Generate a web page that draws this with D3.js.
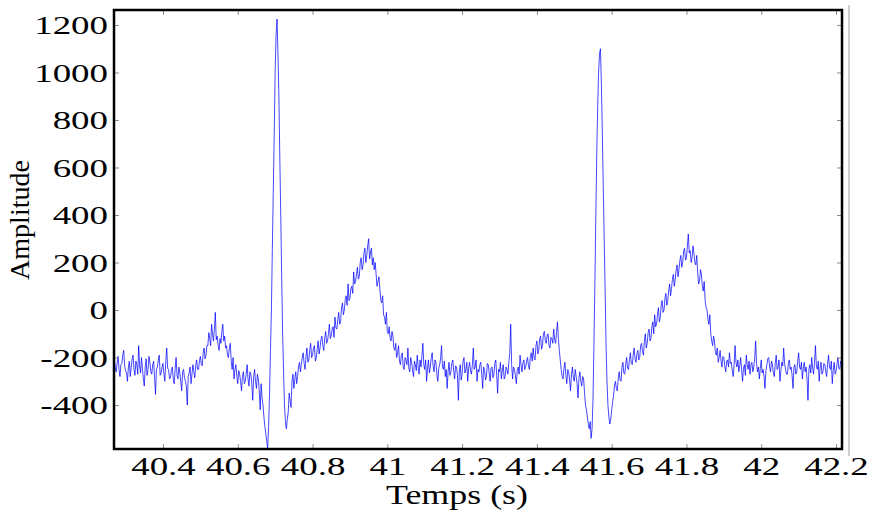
<!DOCTYPE html>
<html>
<head>
  <meta charset="utf-8">
  <script src="https://d3js.org/d3.v7.min.js"></script>
  <style>
    body { margin: 0; background: #fff; }
  </style>
</head>
<body>
  <script type="text/javascript">
      // sampled ECG trace, one value every 2.5 ms starting at 40.27 s (one row = 50 ms)
      var sampleStart = 40.27,
          samplePeriod = 0.0025;

      var amplitude = [
          -210, -245, -260, -220, -195, -250, -280, -230, -225, -190, -170, -235, -255, -265, -300, -240, -215, -280, -240, -205,
          -190, -250, -275, -215, -230, -270, -150, -235, -265, -200, -245, -290, -320, -240, -205, -275, -250, -195, -220, -260,
          -270, -230, -215, -285, -355, -250, -240, -210, -190, -275, -265, -240, -225, -270, -300, -215, -160, -245, -250, -290,
          -285, -255, -240, -290, -310, -250, -200, -275, -290, -240, -265, -300, -340, -260, -250, -285, -300, -320, -400, -280,
          -265, -240, -310, -270, -230, -260, -285, -235, -210, -250, -250, -215, -195, -230, -235, -180, -160, -205, -190, -150,
          -150, -95, -120, -150, -60, -100, -130, -80, -10, -125, -110, -150, -170, -120, -140, -90, -60, -130, -110, -160,
          -150, -190, -200, -160, -140, -215, -250, -200, -290, -250, -230, -280, -310, -255, -270, -300, -340, -280, -260, -310,
          -300, -270, -230, -290, -320, -260, -270, -310, -380, -280, -250, -300, -330, -270, -290, -340, -420, -310, -370, -400,
          -450, -490, -520, -555, -580, -490, -350, -170, 0, 260, 500, 740, 1000, 1160, 1225, 1080, 900, 640, 400, 140,
          -100, -260, -400, -470, -500, -460, -430, -350, -380, -410, -300, -270, -330, -290, -260, -310, -280, -240, -220, -260,
          -230, -200, -180, -225, -250, -195, -160, -220, -210, -170, -140, -200, -190, -160, -150, -215, -200, -165, -130, -185,
          -160, -125, -110, -150, -170, -120, -90, -140, -130, -100, -60, -120, -110, -80, -70, -115, -30, -75, -80, -40,
          -10, -60, -50, 10, 30, -20, 0, 45, 60, 20, 110, 40, 50, 90, 100, 70, 160, 110, 120, 150,
          180, 130, 140, 200, 220, 170, 190, 240, 260, 200, 230, 270, 300, 215, 240, 260, 190, 220, 170, 200,
          150, 100, 120, 140, 90, 40, 30, 60, -20, -30, -60, -10, -90, -100, -70, -120, -130, -90, -110, -160,
          -170, -140, -200, -180, -150, -215, -230, -190, -180, -240, -250, -200, -210, -230, -160, -245, -260, -200, -220, -255,
          -280, -215, -230, -255, -190, -240, -270, -210, -240, -195, -140, -230, -250, -210, -300, -245, -210, -265, -240, -200,
          -180, -235, -260, -210, -220, -270, -300, -245, -230, -205, -150, -240, -250, -215, -280, -250, -330, -260, -220, -275,
          -260, -225, -210, -255, -290, -235, -240, -275, -380, -260, -230, -295, -270, -215, -200, -265, -250, -220, -300, -245,
          -220, -255, -270, -230, -160, -250, -240, -210, -300, -250, -260, -230, -220, -270, -330, -240, -250, -295, -280, -225,
          -230, -265, -300, -245, -240, -285, -270, -225, -210, -275, -350, -250, -260, -220, -290, -255, -230, -290, -280, -240,
          -250, -270, -220, -180, -60, -230, -290, -240, -250, -275, -310, -255, -240, -270, -190, -230, -260, -225, -210, -250,
          -240, -215, -200, -235, -250, -195, -180, -215, -160, -200, -210, -150, -130, -185, -170, -120, -110, -165, -150, -100,
          -90, -130, -140, -105, -100, -150, -160, -115, -120, -140, -80, -125, -140, -95, -50, -120, -170, -210, -250, -280,
          -290, -245, -220, -275, -310, -250, -260, -295, -340, -270, -240, -285, -300, -250, -280, -310, -370, -285, -260, -300,
          -320, -280, -290, -350, -400, -420, -450, -480, -500, -470, -540, -500, -380, -150, 100, 380, 650, 850, 1000, 1080,
          1100, 950, 750, 520, 300, 80, -150, -300, -400, -450, -480, -460, -420, -390, -360, -320, -300, -330, -340, -290,
          -260, -295, -300, -240, -220, -265, -270, -230, -200, -245, -250, -210, -180, -225, -230, -190, -160, -205, -220, -185,
          -170, -210, -200, -150, -140, -175, -190, -130, -100, -160, -140, -95, -80, -130, -120, -70, -50, -100, -20, -70,
          -60, -20, 10, -50, -30, 20, 40, -10, 0, 50, 70, 20, 40, 80, 110, 60, 90, 130, 150, 100,
          130, 170, 190, 140, 170, 210, 230, 180, 200, 250, 260, 210, 220, 270, 320, 240, 250, 200, 220, 270,
          240, 200, 190, 230, 160, 110, 120, 170, 150, 100, 80, 120, 40, 10, 0, -40, -60, -20, -100, -130,
          -150, -110, -130, -180, -190, -160, -220, -200, -170, -215, -240, -195, -200, -235, -260, -215, -210, -240, -180, -225,
          -220, -255, -280, -230, -150, -220, -240, -210, -260, -235, -200, -250, -300, -245, -230, -275, -190, -230, -250, -215,
          -270, -230, -220, -260, -240, -205, -130, -225, -260, -240, -290, -245, -210, -265, -250, -280, -330, -255, -230, -205,
          -200, -240, -260, -215, -230, -265, -280, -225, -190, -250, -240, -210, -300, -255, -220, -235, -160, -225, -250, -270,
          -270, -225, -210, -250, -240, -275, -330, -240, -230, -270, -260, -215, -180, -240, -250, -220, -290, -245, -220, -260,
          -240, -290, -380, -250, -230, -265, -200, -245, -270, -220, -150, -235, -250, -215, -300, -240, -220, -270, -260, -225,
          -230, -260, -280, -225, -190, -240, -250, -215, -310, -255, -220, -270, -260, -230, -200, -245, -250, -215, -230, -250
      ];

      var xTicks = [40.4, 40.6, 40.8, 41, 41.2, 41.4, 41.6, 41.8, 42, 42.2];
      var yTicks = [-400, -200, 0, 200, 400, 600, 800, 1000, 1200];

      function draw() {
          "use strict";

          var width = 870,
              height = 512,
              pLeft = 114, pRight = 842, pTop = 10, pBottom = 449,
              stretch = 1.42;

          var svg = d3.select("body")
            .append("svg")
              .attr("width", width)
              .attr("height", height);

          var x = d3.scaleLinear().domain([40.269, 42.216]).range([pLeft, pRight]);
          var y = d3.scaleLinear().domain([-585, 1263]).range([pBottom, pTop]);

          svg.append("clipPath")
              .attr("id", "plot")
            .append("rect")
              .attr("x", pLeft).attr("y", pTop)
              .attr("width", pRight - pLeft).attr("height", pBottom - pTop);

          // odd grey line at the right of the original figure
          svg.append("line")
              .attr("x1", 849).attr("x2", 849)
              .attr("y1", 5).attr("y2", 456)
              .style("stroke", "#cfcfcf")
              .style("stroke-width", 2);

          var line = d3.line()
              .x(function(d, i) { return x(sampleStart + i * samplePeriod); })
              .y(function(d) { return y(d); });

          svg.append("path")
              .datum(amplitude)
              .attr("clip-path", "url(#plot)")
              .attr("d", line)
              .style("fill", "none")
              .style("stroke", "#0000ff")
              .style("stroke-opacity", 0.72)
              .style("stroke-width", 1);

          function styleAxis(g) {
              g.select(".domain").remove();
              g.selectAll(".tick line").style("stroke", "#8a8a8a");
              g.selectAll("text")
                  .style("font-family", "'Liberation Serif', serif")
                  .style("font-size", "26px")
                  .style("fill", "#000");
          }

          var xAxis = svg.append("g")
              .attr("transform", "translate(0," + pBottom + ")")
              .call(d3.axisBottom(x).tickValues(xTicks).tickSize(-5).tickPadding(8).tickFormat(String))
              .call(styleAxis);
          xAxis.selectAll("text").attr("transform", "scale(" + stretch + ",1)");

          var yAxis = svg.append("g")
              .attr("transform", "translate(" + pLeft + ",0)")
              .call(d3.axisLeft(y).tickValues(yTicks).tickSize(-5).tickFormat(String))
              .call(styleAxis);
          yAxis.selectAll("text")
              .attr("x", -6 / stretch)
              .attr("dy", "0.33em")
              .attr("transform", "scale(" + stretch + ",1)");

          svg.append("g")
              .attr("transform", "translate(0," + pTop + ")")
              .call(d3.axisTop(x).tickValues(xTicks).tickSize(-5).tickFormat(""))
              .call(styleAxis);

          svg.append("g")
              .attr("transform", "translate(" + pRight + ",0)")
              .call(d3.axisRight(y).tickValues(yTicks).tickSize(-5).tickFormat(""))
              .call(styleAxis);

          svg.append("rect")
              .attr("x", pLeft).attr("y", pTop)
              .attr("width", pRight - pLeft).attr("height", pBottom - pTop)
              .style("fill", "none")
              .style("stroke", "#000")
              .style("stroke-width", 2.5);

          svg.append("text")
              .attr("transform", "translate(457,504) scale(1.33,1)")
              .style("font-family", "'Liberation Serif', serif")
              .style("font-size", "27px")
              .style("text-anchor", "middle")
              .text("Temps (s)");

          svg.append("text")
              .attr("transform", "translate(29,220) rotate(-90)")
              .style("font-family", "'Liberation Serif', serif")
              .style("font-size", "28px")
              .style("text-anchor", "middle")
              .text("Amplitude");
      }

      draw();
  </script>
</body>
</html>
